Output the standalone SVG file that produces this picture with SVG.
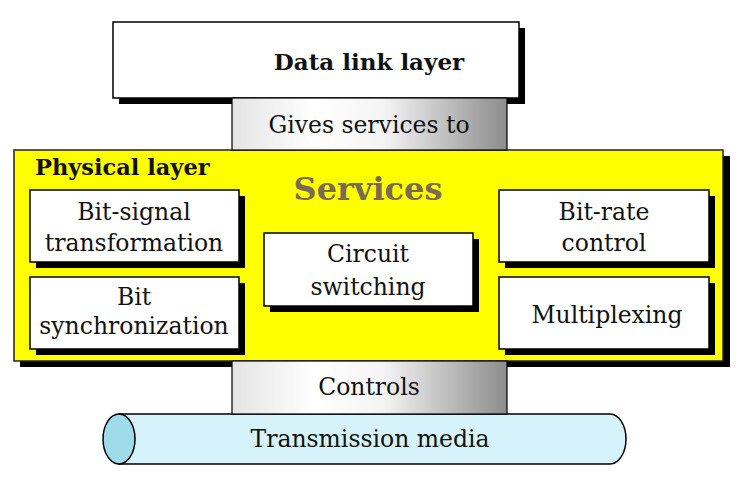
<svg xmlns="http://www.w3.org/2000/svg" width="745" height="487" viewBox="0 0 745 487">
<defs>
<linearGradient id="band" x1="0" y1="0" x2="1" y2="0">
<stop offset="0" stop-color="#e4e4e4"/>
<stop offset="0.3" stop-color="#ffffff"/>
<stop offset="0.55" stop-color="#f4f4f4"/>
<stop offset="1" stop-color="#8c8c8c"/>
</linearGradient>
<style>
.box{fill:#fff;stroke:#000;stroke-width:1.5}
.sh{fill:#000}
.t{font-family:"DejaVu Serif","Liberation Serif",serif;font-size:23.5px;fill:#111;text-anchor:middle}
.b{font-family:"DejaVu Serif","Liberation Serif",serif;font-weight:bold;fill:#111}
.band{fill:url(#band);stroke:#000;stroke-width:1.2}
</style>
</defs>
<rect width="745" height="487" fill="#fff"/>

<g id="data-link-layer">
<rect class="sh" x="119" y="28" width="406" height="76"/>
<rect class="box" x="113" y="22" width="406" height="76"/>
<text class="b" x="369" y="70" font-size="23" text-anchor="middle">Data link layer</text>
</g>

<g id="physical-layer">
<rect class="sh" x="20" y="156" width="710" height="211"/>
<rect x="14" y="150" width="709" height="211" fill="#ffff00" stroke="#222" stroke-width="1.5"/>
<text class="b" x="35" y="175" font-size="22.5">Physical layer</text>
<text class="b" x="368" y="200" font-size="32" text-anchor="middle" fill="#7a6a55" style="fill:#7a6a55">Services</text>
</g>

<g id="bit-signal">
<rect class="sh" x="36" y="196" width="209" height="72"/>
<rect class="box" x="30" y="190" width="209" height="72"/>
<text class="t" x="134" y="220">Bit-signal</text>
<text class="t" x="134" y="251">transformation</text>
</g>

<g id="bit-sync">
<rect class="sh" x="36" y="283" width="209" height="72"/>
<rect class="box" x="30" y="277" width="209" height="72"/>
<text class="t" x="134" y="305">Bit</text>
<text class="t" x="134" y="334">synchronization</text>
</g>

<g id="circuit-switching">
<rect class="sh" x="270" y="239" width="209" height="73"/>
<rect class="box" x="264" y="233" width="209" height="73"/>
<text class="t" x="368" y="262">Circuit</text>
<text class="t" x="368" y="295">switching</text>
</g>

<g id="bit-rate">
<rect class="sh" x="505" y="196" width="210" height="72"/>
<rect class="box" x="499" y="190" width="210" height="72"/>
<text class="t" x="604" y="220">Bit-rate</text>
<text class="t" x="604" y="251">control</text>
</g>

<g id="multiplexing">
<rect class="sh" x="505" y="283" width="210" height="72"/>
<rect class="box" x="499" y="277" width="210" height="72"/>
<text class="t" x="607" y="323">Multiplexing</text>
</g>

<g id="transmission-media">
<path d="M119,414 H610 A16,25 0 0 1 610,464 H119 Z" fill="#d6f3fb" stroke="#000" stroke-width="1.5"/>
<ellipse cx="119" cy="439" rx="16" ry="25" fill="#9edbeb" stroke="#000" stroke-width="1.5"/>
<text class="t" x="370" y="447">Transmission media</text>
</g>

<g id="connectors">
<rect class="band" x="232" y="98" width="275" height="52"/>
<text class="t" x="369" y="133">Gives services to</text>
<rect class="band" x="232" y="361" width="275" height="53"/>
<text class="t" x="369" y="395">Controls</text>
</g>
</svg>
